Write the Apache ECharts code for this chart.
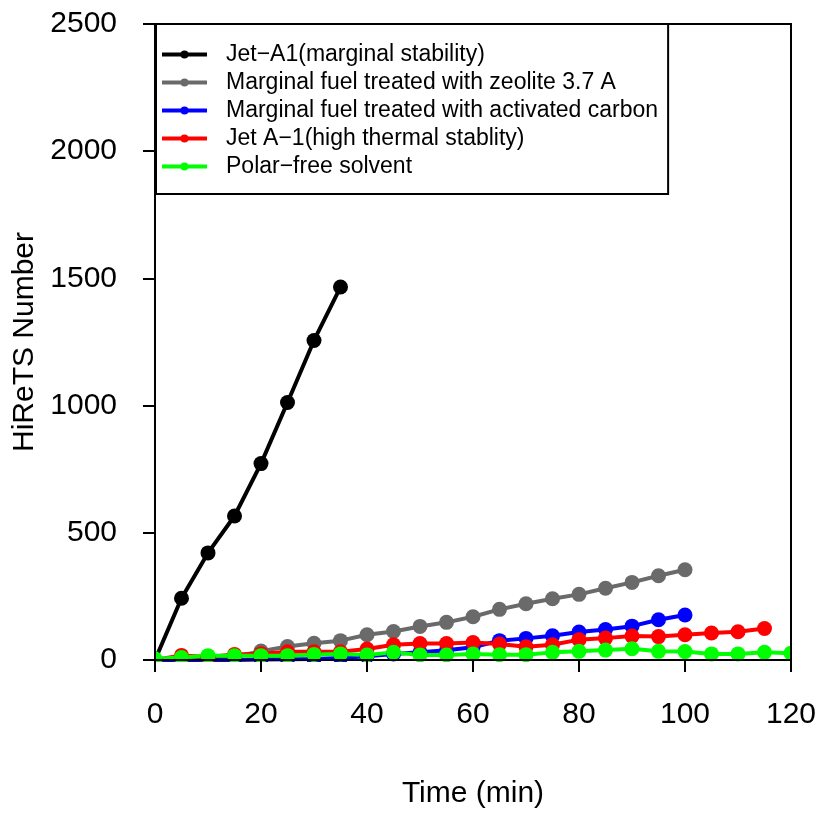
<!DOCTYPE html>
<html>
<head>
<meta charset="utf-8">
<script src="https://cdn.jsdelivr.net/npm/echarts@6/dist/echarts.min.js"></script>
<style>html,body{margin:0;padding:0;background:#fff;}#c{width:820px;height:814px;}</style>
</head>
<body>
<div id="c"></div>
<script>
var seriesNames = [
  'Jet\u2212A1(marginal stability)',
  'Marginal fuel treated with zeolite 3.7 A',
  'Marginal fuel treated with activated carbon',
  'Jet A\u22121(high thermal stablity)',
  'Polar\u2212free solvent'
];
var xTicks = [0, 20, 40, 60, 80, 100, 120];
var yTicks = [0, 500, 1000, 1500, 2000, 2500];

var timeBlack = [0, 5, 10, 15, 20, 25, 30, 35];
var jetA1Marginal = [0, 243, 421, 566, 772, 1012, 1256, 1466];

var timeGray = [0, 5, 10, 15, 20, 25, 30, 35, 40, 45, 50, 55, 60, 65, 70, 75, 80, 85, 90, 95, 100];
var zeolite = [0, 3, 8, 12, 35, 53, 66, 76, 99, 112, 132, 148, 170, 199, 221, 241, 258, 282, 305, 331, 355];

var timeBlue = [0, 5, 10, 15, 20, 25, 30, 35, 40, 45, 50, 55, 60, 65, 70, 75, 80, 85, 90, 95, 100];
var activatedCarbon = [0, 0, 0, 0, 2, 3, 4, 8, 15, 24, 30, 38, 50, 76, 85, 95, 110, 120, 133, 158, 177];

var timeRed = [0, 5, 10, 15, 20, 25, 30, 35, 40, 45, 50, 55, 60, 65, 70, 75, 80, 85, 90, 95, 100, 105, 110, 115];
var jetA1High = [0, 18, 12, 22, 25, 32, 32, 32, 43, 60, 65, 65, 69, 63, 52, 60, 80, 86, 94, 92, 99, 106, 111, 124];

var timeGreen = [0, 5, 10, 15, 20, 25, 30, 35, 40, 45, 50, 55, 60, 65, 70, 75, 80, 85, 90, 95, 100, 105, 110, 115, 120];
var polarFree = [5, 10, 17, 17, 17, 17, 22, 24, 20, 30, 20, 20, 24, 21, 21, 30, 34, 39, 44, 34, 33, 24, 24, 30, 27];

var colors = ['#000000', '#6a6a6a', '#0000ff', '#ff0000', '#00ff00'];

function pairs(xs, ys) { return xs.map(function (x, i) { return [x, ys[i]]; }); }

var dataSets = [
  pairs(timeBlack, jetA1Marginal),
  pairs(timeGray, zeolite),
  pairs(timeBlue, activatedCarbon),
  pairs(timeRed, jetA1High),
  pairs(timeGreen, polarFree)
];

var FONT = '"Liberation Sans", Arial, Helvetica, sans-serif';
var W = 820, H = 814;
var G = { left: 155, right: 29, top: 24, bottom: 153 };
var gx0 = G.left, gx1 = W - G.right, gy0 = G.top, gy1 = H - G.bottom;

// white masks outside the plot box so markers are clipped like the original plot
var masks = [
  { type: 'rect', z: 5, silent: true, shape: { x: gx0 - 20, y: gy1 + 1, width: gx1 - gx0 + 40, height: 20 }, style: { fill: '#fff' } },
  { type: 'rect', z: 5, silent: true, shape: { x: gx0 - 20, y: gy0, width: 19, height: gy1 - gy0 + 2 }, style: { fill: '#fff' } },
  { type: 'rect', z: 5, silent: true, shape: { x: gx1 + 1, y: gy0, width: 20, height: gy1 - gy0 + 2 }, style: { fill: '#fff' } }
];

var chart = echarts.init(document.getElementById('c'), null, { renderer: 'canvas' });
chart.setOption({
  animation: false,
  backgroundColor: '#fff',
  color: colors,
  grid: { left: G.left, right: G.right, top: G.top, bottom: G.bottom, show: true, borderColor: '#000', borderWidth: 2, backgroundColor: 'transparent', z: 10 },
  graphic: { elements: masks },
  legend: {
    orient: 'vertical',
    left: 156,
    top: 24,
    z: 12,
    padding: [19, 10, 16, 4],
    itemWidth: 45,
    itemHeight: 10,
    itemGap: 5,
    borderColor: '#000',
    borderWidth: 2,
    backgroundColor: '#fff',
    data: seriesNames,
    lineStyle: { width: 4 },
    textStyle: { fontFamily: FONT, fontSize: 23, color: '#000', padding: [0, 0, 0, 14] }
  },
  xAxis: {
    type: 'value', min: xTicks[0], max: xTicks[xTicks.length - 1], interval: 20, z: 10,
    name: 'Time (min)', nameLocation: 'middle', nameGap: 119,
    nameTextStyle: { fontFamily: FONT, fontSize: 30, color: '#000' },
    axisLine: { show: true, lineStyle: { color: '#000', width: 2 } },
    axisTick: { show: true, length: 12, lineStyle: { color: '#000', width: 2 } },
    axisLabel: { fontFamily: FONT, fontSize: 30, color: '#000', margin: 40, formatter: function (v) { return String(v); } },
    splitLine: { show: false }
  },
  yAxis: {
    type: 'value', min: yTicks[0], max: yTicks[yTicks.length - 1], interval: 500, z: 10,
    name: 'HiReTS Number', nameLocation: 'middle', nameGap: 109, nameRotate: 90,
    nameTextStyle: { fontFamily: FONT, fontSize: 30, color: '#000' },
    axisLine: { show: true, lineStyle: { color: '#000', width: 2 } },
    axisTick: { show: true, length: 12, lineStyle: { color: '#000', width: 2 } },
    axisLabel: { fontFamily: FONT, fontSize: 30, color: '#000', margin: 38, formatter: function (v) { return String(v); } },
    splitLine: { show: false }
  },
  series: dataSets.map(function (d, i) {
    return {
      name: seriesNames[i],
      type: 'line',
      data: d,
      symbol: 'circle',
      symbolSize: 15,
      showSymbol: true,
      clip: true,
      z: 2,
      lineStyle: { color: colors[i], width: 4 },
      itemStyle: { color: colors[i] },
      emphasis: { disabled: true }
    };
  })
});
</script>
</body>
</html>
